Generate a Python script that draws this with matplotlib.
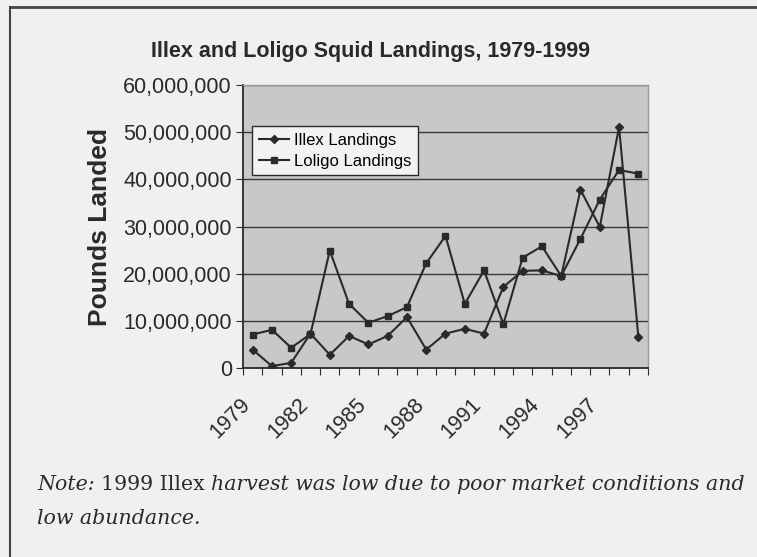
import matplotlib.pyplot as plt
from matplotlib.ticker import FuncFormatter, FixedLocator
from matplotlib.transforms import ScaledTranslation

# data (pounds landed)
years = list(range(1979, 2000))
illex = [3.9e6, 0.4e6, 1.1e6, 7.3e6, 2.8e6, 6.8e6, 5.0e6, 6.8e6, 10.8e6, 3.9e6,
         7.3e6, 8.3e6, 7.3e6, 17.2e6, 20.6e6, 20.7e6, 19.5e6, 37.8e6, 29.9e6,
         51.1e6, 6.6e6]
loligo = [7.1e6, 8.1e6, 4.3e6, 7.2e6, 24.9e6, 13.6e6, 9.6e6, 11.0e6, 12.9e6,
          22.2e6, 28.0e6, 13.6e6, 20.7e6, 9.3e6, 23.4e6, 25.8e6, 19.5e6,
          27.4e6, 35.7e6, 42.0e6, 41.2e6]
shown_years = [1979, 1982, 1985, 1988, 1991, 1994, 1997]

title = "Illex and Loligo Squid Landings, 1979-1999"
ylabel = "Pounds Landed"

page = "#f0f0f0"
ink = "#2a2a2a"

fig = plt.figure(figsize=(7.57, 5.57), dpi=100, facecolor=page)
ax = fig.add_axes([0.321, 0.3393, 0.535, 0.508])
ax.set_facecolor("#c8c8c8")

x = list(range(len(years)))
ax.plot(x, illex, color=ink, lw=1.5, marker="D", ms=3.8, label="Illex Landings")
ax.plot(x, loligo, color=ink, lw=1.5, marker="s", ms=4.8, label="Loligo Landings")

# axes / layout
ax.set_xlim(-0.5, len(years) - 0.5)
ax.set_ylim(0, 60e6)
ax.yaxis.set_major_locator(FixedLocator([i * 10e6 for i in range(7)]))
ax.yaxis.set_major_formatter(FuncFormatter(lambda v, p: f"{int(v):,}"))
ax.grid(axis="y", color="#3a3a3a", lw=1.0)
ax.set_axisbelow(True)

# category boundaries as tick marks, labels on every third year
ax.set_xticks([i - 0.5 for i in range(len(years) + 1)])
ax.set_xticklabels([])
ax.set_xticks([years.index(y) for y in shown_years], minor=True)
ax.set_xticklabels([str(y) for y in shown_years], minor=True, rotation=45,
                   ha="right", va="center", rotation_mode="anchor")
ax.tick_params(axis="x", which="major", length=5, color=ink, direction="out")
ax.tick_params(axis="x", which="minor", length=0, pad=24, labelsize=15.5,
               labelcolor=ink)
ax.tick_params(axis="y", length=5, color=ink, labelsize=15.5, labelcolor=ink, pad=3)
shift = ScaledTranslation(-4 / 72, 0, fig.dpi_scale_trans)
for lab in ax.get_xticklabels(minor=True):
    lab.set_family("Liberation Sans")
    lab.set_transform(lab.get_transform() + shift)
for lab in ax.get_yticklabels():
    lab.set_family("Liberation Sans")

for side in ("left", "bottom"):
    ax.spines[side].set_color(ink)
    ax.spines[side].set_linewidth(1.3)
for side in ("top", "right"):
    ax.spines[side].set_color("#9a9a9a")
    ax.spines[side].set_linewidth(1.0)

ax.set_ylabel(ylabel, family="Liberation Sans", weight="bold", fontsize=19,
              color=ink, labelpad=8)
fig.text(0.489, 0.907, title, ha="center", va="center", family="Liberation Sans",
         weight="bold", fontsize=15.5, color=ink)

leg = ax.legend(loc="upper left", bbox_to_anchor=(0.022, 0.855), borderaxespad=0,
                prop={"family": "Liberation Sans", "size": 12}, handlelength=1.8,
                handletextpad=0.3, fancybox=False, framealpha=1, borderpad=0.4,
                labelspacing=0.35)
leg.get_frame().set_facecolor("#f2f2f2")
leg.get_frame().set_edgecolor(ink)
leg.get_frame().set_linewidth(1.0)

# page border of the scanned box
fig.add_artist(plt.Line2D([0.013, 1.0], [0.987, 0.987], color="#444444", lw=2))
fig.add_artist(plt.Line2D([0.013, 0.013], [0.0, 0.987], color="#444444", lw=1.5))

# note below the chart, mixed italic / roman
note_parts = [("Note: ", "italic"), ("1999 Illex ", "normal"),
              ("harvest was low due to poor market conditions and", "italic")]
fig.canvas.draw()
renderer = fig.canvas.get_renderer()
xpos = 37
for text, style in note_parts:
    t = fig.text(xpos / 757, 1 - 484 / 557, text, ha="left", va="center",
                 family="DejaVu Serif", style=style, fontsize=14.8, color=ink)
    xpos += t.get_window_extent(renderer).width
fig.text(37 / 757, 1 - 518 / 557, "low abundance.", ha="left", va="center",
         family="DejaVu Serif", style="italic", fontsize=14.8, color=ink)

fig.savefig("out.png", dpi=100, facecolor=page)
